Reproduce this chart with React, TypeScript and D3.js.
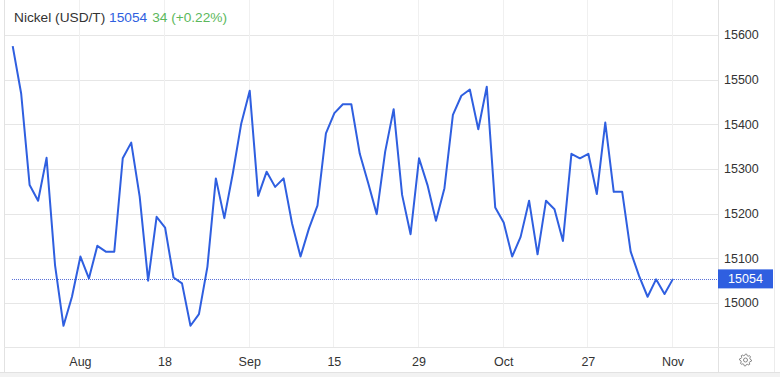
import React, { useRef, useEffect } from "react";
import * as d3 from "d3";

const values: number[] = [
  15575, 15469, 15264, 15229, 15325, 15085, 14949, 15014, 15104, 15055,
  15128, 15115, 15115, 15324, 15359, 15238, 15050, 15193, 15169, 15057,
  15044, 14949, 14975, 15081, 15279, 15190, 15290, 15402, 15475, 15240,
  15294, 15260, 15279, 15178, 15104, 15167, 15218, 15380, 15425, 15445,
  15445, 15334, 15268, 15199, 15339, 15434, 15242, 15154, 15324, 15264,
  15184, 15257, 15421, 15464, 15478, 15389, 15484, 15214, 15180, 15104,
  15148, 15229, 15109, 15229, 15210, 15139, 15334, 15324, 15334, 15244,
  15404, 15249, 15249, 15115, 15060, 15014, 15053, 15020, 15054,
];

const xTickIndex: number[] = [8, 18, 28, 38, 48, 58, 68, 78];
const xTickLabels: string[] = ["Aug", "18", "Sep", "15", "29", "Oct", "27", "Nov"];
const yTicks: number[] = [15000, 15100, 15200, 15300, 15400, 15500, 15600];
const titleName = "Nickel (USD/T)";
const lastValue = 15054;
const changeText = "34 (+0.22%)";

const W = 780;
const H = 377;
const FONT = "Arial, 'Liberation Sans', Helvetica, sans-serif";
const BLUE = "#2f5fe0";

export default function App() {
  const ref = useRef<SVGSVGElement>(null);

  useEffect(() => {
    const svg = d3.select(ref.current);
    svg.selectAll("*").remove();

    const x = d3.scaleLinear().domain([0, values.length - 1]).range([12.7, 673]);
    const y = d3.scaleLinear().domain([15000, 15600]).range([303, 35]);

    svg.append("rect").attr("x", 0).attr("y", 0).attr("width", W).attr("height", H).attr("fill", "#fff");
    svg.append("rect").attr("x", 0).attr("y", 372).attr("width", W).attr("height", 5).attr("fill", "#f2f2f2");

    svg.append("g")
      .selectAll("line")
      .data(yTicks)
      .join("line")
      .attr("x1", 5)
      .attr("x2", 718)
      .attr("y1", (d) => Math.round(y(d)) + 0.5)
      .attr("y2", (d) => Math.round(y(d)) + 0.5)
      .attr("stroke", "#e6e6e6")
      .attr("stroke-width", 1);

    svg.append("g")
      .selectAll("line")
      .data(xTickIndex)
      .join("line")
      .attr("x1", (d) => Math.round(x(d)) - 0.5)
      .attr("x2", (d) => Math.round(x(d)) - 0.5)
      .attr("y1", 0)
      .attr("y2", 347)
      .attr("stroke", "#f0f0f0")
      .attr("stroke-width", 1);

    svg.append("line").attr("x1", 4.5).attr("x2", 4.5).attr("y1", 0).attr("y2", 372).attr("stroke", "#e2e2e2");
    svg.append("line").attr("x1", 718.5).attr("x2", 718.5).attr("y1", 0).attr("y2", 372).attr("stroke", "#e2e2e2");
    svg.append("line").attr("x1", 774.5).attr("x2", 774.5).attr("y1", 0).attr("y2", 372).attr("stroke", "#ececec");
    svg.append("line").attr("x1", 4).attr("x2", 775).attr("y1", 347.5).attr("y2", 347.5).attr("stroke", "#e6e6e6");
    svg.append("line").attr("x1", 0).attr("x2", W).attr("y1", 372.5).attr("y2", 372.5).attr("stroke", "#e2e2e2");

    svg.append("line")
      .attr("x1", 12)
      .attr("x2", 718)
      .attr("y1", Math.round(y(lastValue)) + 0.5)
      .attr("y2", Math.round(y(lastValue)) + 0.5)
      .attr("stroke", "#5b72d8")
      .attr("stroke-width", 1)
      .attr("stroke-dasharray", "1,1");

    const line = d3.line<number>().x((_, i) => x(i)).y((d) => y(d));
    svg.append("path")
      .datum(values)
      .attr("d", line)
      .attr("fill", "none")
      .attr("stroke", BLUE)
      .attr("stroke-width", 2)
      .attr("stroke-linejoin", "round");

    svg.append("g")
      .selectAll("text")
      .data(yTicks)
      .join("text")
      .attr("x", 724)
      .attr("y", (d) => y(d))
      .attr("dy", "0.35em")
      .attr("font-family", FONT)
      .attr("font-size", 12.5)
      .attr("fill", "#333")
      .text((d) => String(d));

    const ly = y(lastValue);
    svg.append("rect").attr("x", 718).attr("y", ly - 9.5).attr("width", 55).attr("height", 19).attr("fill", BLUE);
    svg.append("text")
      .attr("x", 745.5)
      .attr("y", ly)
      .attr("dy", "0.36em")
      .attr("text-anchor", "middle")
      .attr("font-family", FONT)
      .attr("font-size", 12.5)
      .attr("fill", "#fff")
      .text(String(lastValue));

    svg.append("g")
      .selectAll("text")
      .data(xTickIndex)
      .join("text")
      .attr("x", (d) => x(d))
      .attr("y", 362)
      .attr("dy", "0.35em")
      .attr("text-anchor", "middle")
      .attr("font-family", FONT)
      .attr("font-size", 12.5)
      .attr("fill", "#333")
      .text((_, i) => xTickLabels[i]);

    const t = svg.append("text").attr("x", 14).attr("y", 22).attr("font-family", FONT).attr("font-size", 13.7);
    t.append("tspan").attr("fill", "#333").text(titleName + " ");
    t.append("tspan").attr("fill", BLUE).text(String(lastValue));
    t.append("tspan").attr("fill", "#5cb85c").attr("dx", 5).text(changeText);

    const gx = 745.5, gy = 360;
    const teeth = 8;
    const outerR = 6, innerR = 4.6;
    const pts: [number, number][] = [];
    for (let k = 0; k < teeth * 4; k++) {
      const a = (k / (teeth * 4)) * Math.PI * 2;
      const r = k % 4 === 0 || k % 4 === 1 ? outerR : innerR;
      pts.push([gx + r * Math.cos(a), gy + r * Math.sin(a)]);
    }
    svg.append("path")
      .attr("d", d3.line()(pts) + "Z")
      .attr("fill", "none")
      .attr("stroke", "#888")
      .attr("stroke-width", 1);
    svg.append("circle").attr("cx", gx).attr("cy", gy).attr("r", 2).attr("fill", "none").attr("stroke", "#888");
  }, []);

  return (
    <svg
      ref={ref}
      width={W}
      height={H}
      style={{ position: "absolute", left: 0, top: 0, display: "block" }}
    />
  );
}
